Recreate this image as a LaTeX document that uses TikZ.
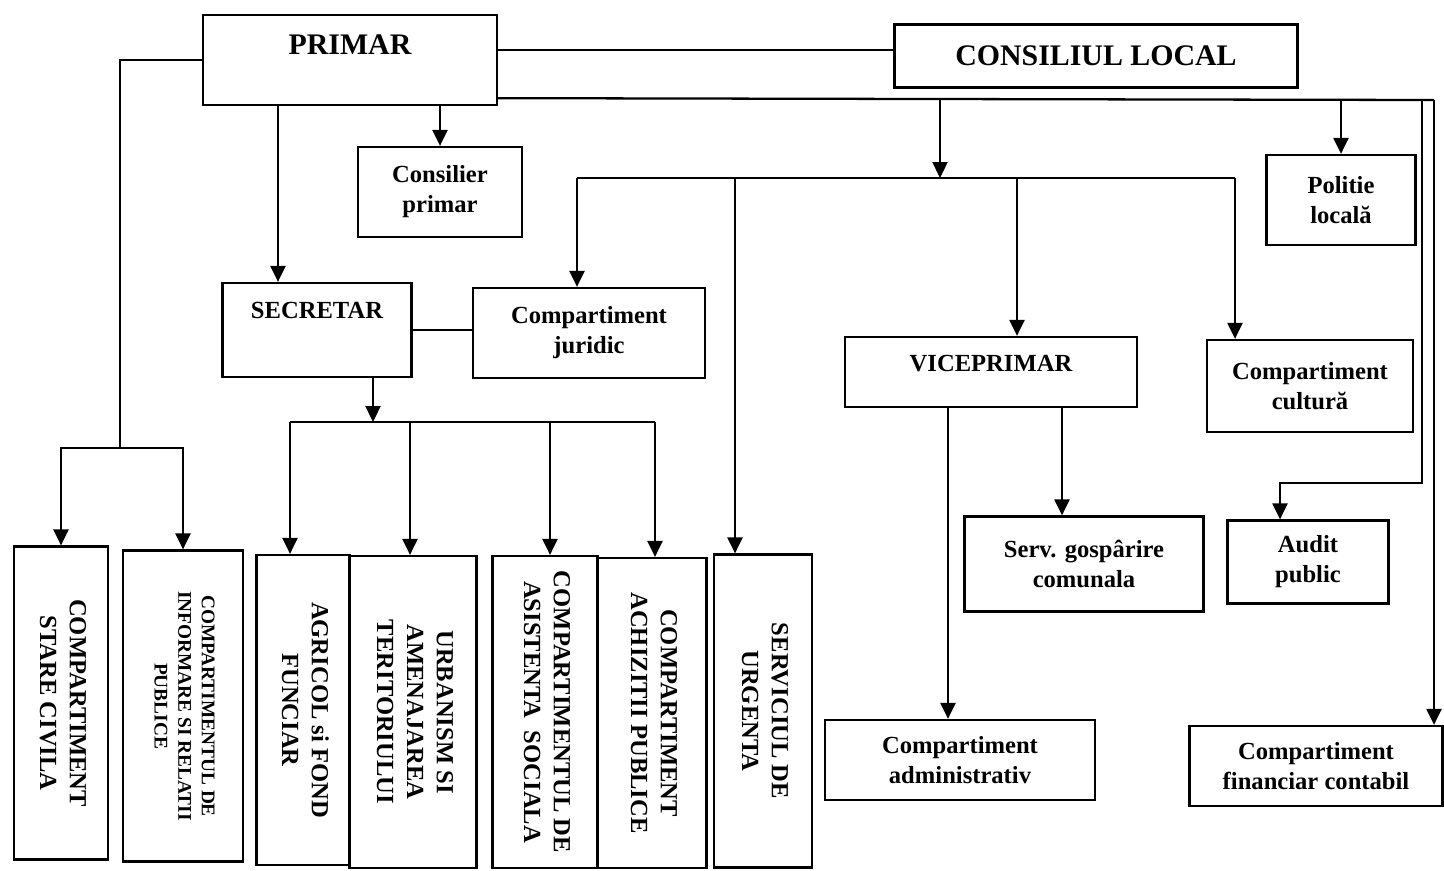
\documentclass[tikz,border=0pt]{standalone}
\usepackage{fontspec}
\setmainfont{Liberation Serif}
\usetikzlibrary{arrows.meta}

\tikzset{
  box/.style={draw, align=center, inner sep=2pt,
    font=\bfseries\fontsize{14}{17}\selectfont},
  big/.style={font=\bfseries\fontsize{17}{20}\selectfont},
  arr/.style={-{Triangle[length=0.32cm,width=0.3cm]}},
}
\newcommand{\vtext}[1]{\rotatebox{-90}{\begin{tabular}{@{}c@{}}#1\end{tabular}}}

\begin{document}
\begin{tikzpicture}  % ------ Organigrama primariei -----------
      [x=0.02cm,y=-0.02cm,line width=1.3pt]
    \useasboundingbox (0,0) rectangle (1444,870);

    % ------ conducere -----------
    \node[box,big,minimum width=5.88cm,minimum height=1.8cm,text height=12pt,text depth=18pt] (primar) at (350,60) {PRIMAR};
    \node[box,big,minimum width=8.06cm,minimum height=1.26cm] (consiliu) at (1096,56) {CONSILIUL LOCAL};
    \node[box,minimum width=3.28cm,minimum height=1.8cm] (consilier) at (440,192) {Consilier\\primar};
    \node[box,minimum width=2.98cm,minimum height=1.8cm] (politie) at (1341,200) {Politie\\locală};
    \node[box,minimum width=3.78cm,minimum height=1.88cm,text height=10pt,text depth=23pt] (secretar) at (317,330) {SECRETAR};
    \node[box,minimum width=4.64cm,minimum height=1.8cm] (juridic) at (589,333) {Compartiment\\juridic};
    \node[box,minimum width=5.84cm,minimum height=1.4cm,text height=10pt,text depth=11pt] (viceprimar) at (991,372) {VICEPRIMAR};
    \node[box,minimum width=4.12cm,minimum height=1.84cm] (cultura) at (1310,386) {Compartiment\\cultură};
    \node[box,minimum width=4.78cm,minimum height=1.9cm] (gospodarire) at (1084,564) {Serv. gospârire\\comunala};
    \node[box,minimum width=3.22cm,minimum height=1.66cm] (audit) at (1308,562) {Audit\\public};
    \node[box,minimum width=5.4cm,minimum height=1.6cm] (administrativ) at (960,760) {Compartiment\\administrativ};
    \node[box,minimum width=5.06cm,minimum height=1.6cm] (financiar) at (1316,766) {Compartiment\\financiar contabil};

    % ------ compartimente verticale -----------
    \node[box,minimum width=1.88cm,minimum height=6.26cm] (stare) at (61,703) {\vtext{COMPARTIMENT\\STARE CIVILA}};
    \node[box,minimum width=2.4cm,minimum height=6.22cm,font=\bfseries\fontsize{11}{13.5}\selectfont] (informare) at (183,706) {\vtext{COMPARTIMENTUL DE\\INFORMARE SI RELATII\\PUBLICE}};
    \node[box,minimum width=1.86cm,minimum height=6.2cm] (agricol) at (303,710) {\vtext{AGRICOL si FOND\\FUNCIAR}};
    \node[box,minimum width=2.54cm,minimum height=6.24cm] (urbanism) at (413,712) {\vtext{URBANISM SI\\AMENAJAREA\\TERITORIULUI}};
    \node[box,minimum width=2.1cm,minimum height=6.24cm] (asistenta) at (545,712) {\vtext{COMPARTIMENTUL DE\\ASISTENTA\ \ SOCIALA}};
    \node[box,minimum width=2.18cm,minimum height=6.2cm] (achizitii) at (652,713) {\vtext{COMPARTIMENT\\ACHIZITII PUBLICE}};
    \node[box,minimum width=1.96cm,minimum height=6.26cm] (urgenta) at (763,711) {\vtext{SERVICIUL DE\\URGENTA}};

    % ------ legaturi primar -----------
    \coordinate (civ) at (120,448);
    \draw (primar.west) -| (civ);
    \draw[arr] (civ) -| (stare.north);
    \draw[arr] (civ) -| (informare.north);
    \draw ([yshift=0.12cm]primar.east |- consiliu.west) -- ([yshift=0.12cm]consiliu.west);
    \coordinate (sx) at (278,200);
    \draw[arr] (sx |- primar.south) -- (sx |- secretar.north);
    \draw[arr] (consilier.north |- primar.south) -- (consilier.north);

    % ------ linia de sus, spre dreapta -----------
    \coordinate (r1) at (1422,100);
    \coordinate (r2) at (1434,100);
    \draw ([yshift=0.16cm]primar.south east) -- (r2);
    \draw[arr] (politie.north |- r2) -- (politie.north);
    \coordinate (au) at (1280,483);
    \draw[arr] (r1) |- (au) -- (au |- audit.north);
    \draw[arr] (r2) -- (r2 |- financiar.north);

    \coordinate (vb) at (940,178);
    \draw[arr] (vb |- r2) -- (vb);
    \coordinate (b1) at (577,178);
    \coordinate (b2) at (735,178);
    \coordinate (b3) at (1017,178);
    \coordinate (b4) at (1235,178);
    \draw (b1) -- (b4);
    \draw[arr] (b1) -- (b1 |- juridic.north);
    \draw[arr] (b2) -- (b2 |- urgenta.north);
    \draw[arr] (b3) -- (b3 |- viceprimar.north);
    \draw[arr] (b4) -- (b4 |- cultura.north);

    % ------ secretar -----------
    \draw (secretar.east) -- (secretar.east -| juridic.west);
    \coordinate (sb) at (373,422);
    \draw[arr] (sb |- secretar.south) -- (sb);
    \foreach \x/\n in {290/agricol,410/urbanism,550/asistenta,655/achizitii}{
      \coordinate (t\n) at (\x,422);
      \draw[arr] (t\n) -- (t\n |- \n.north);
    }
    \draw (tagricol) -- (tachizitii);

    % ------ viceprimar -----------
    \coordinate (v1) at (948,500);
    \coordinate (v2) at (1062,500);
    \draw[arr] (v1 |- viceprimar.south) -- (v1 |- administrativ.north);
    \draw[arr] (v2 |- viceprimar.south) -- (v2 |- gospodarire.north);
\end{tikzpicture}
\end{document}
